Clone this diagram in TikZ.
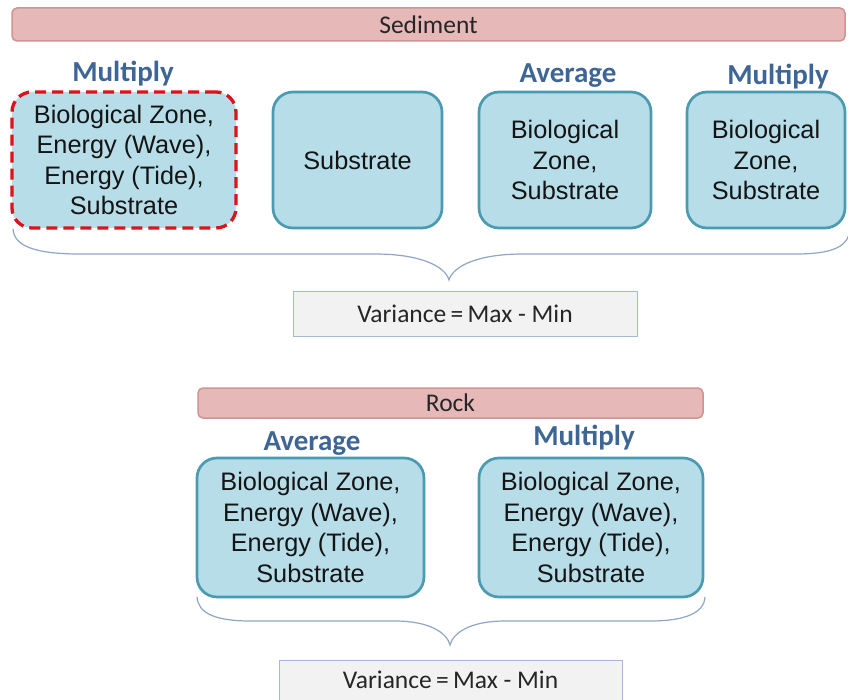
\documentclass[tikz,border=0pt]{standalone}
\usepackage{fontspec}
\setmainfont{Liberation Sans}
\newfontfamily\calfont{Carlito}
\definecolor{barfill}{HTML}{E6B9B8}
\definecolor{bardraw}{HTML}{CF9493}
\definecolor{boxfill}{HTML}{B7DDE8}
\definecolor{boxdraw}{HTML}{4A9AB1}
\definecolor{labelblue}{HTML}{3D6696}
\definecolor{varfill}{HTML}{F2F2F2}
\definecolor{vardraw}{HTML}{A3B9D6}
\definecolor{bracecol}{HTML}{8FA6C4}
\definecolor{dashred}{HTML}{D9141C}
\definecolor{textdark}{HTML}{262626}
\tikzset{
  bar/.style={draw=bardraw, fill=barfill, line width=1.5pt, rounded corners=5pt,
    inner sep=0pt, text=textdark, font=\calfont\fontsize{25.5}{27}\selectfont},
  zonebox/.style={draw=boxdraw, fill=boxfill, line width=2.7pt, rounded corners=20pt,
    inner sep=0pt, align=center, text=black!92, font=\fontsize{25.3}{30.5}\selectfont},
  hilite/.style={draw=dashred, line width=3.3pt, dash pattern=on 11pt off 6pt},
  oplabel/.style={anchor=base, text=labelblue, inner sep=0pt,
    font=\calfont\bfseries\fontsize{29}{31}\selectfont},
  varbox/.style={draw=vardraw, fill=varfill, line width=1pt, inner sep=0pt,
    text=textdark, font=\calfont\fontsize{25.5}{28}\selectfont},
  bracepath/.style={draw=bracecol, line width=1.2pt}
}
\begin{document}
\begin{tikzpicture}[x=1pt, y=-1pt]
\useasboundingbox (0,0) rectangle (848,700);
\fill[white] (0,0) rectangle (848,700);

% ---------- Sediment ----------
\node[bar, minimum width=833pt, minimum height=33pt] (sed) at (428.5,24.5) {Sediment};

\node[oplabel] (l1) at (123,82) {Multiply};
\node[oplabel] (l3) at (568,83) {Average};
\node[oplabel] (l4) at (778,85) {Multiply};

\node[zonebox, hilite, minimum width=224pt, minimum height=136pt] (s1) at (124,160)
  {Biological Zone,\\Energy (Wave),\\Energy (Tide),\\Substrate};
\node[zonebox, minimum width=169pt, minimum height=136pt] (s2) at (357.5,160) {Substrate};
\node[zonebox, minimum width=172pt, minimum height=136pt] (s3) at (565,160)
  {Biological\\Zone,\\Substrate};
\node[zonebox, minimum width=158pt, minimum height=136pt] (s4) at (766,160)
  {Biological\\Zone,\\Substrate};

\coordinate (sbl) at (13,229);
\coordinate (stip) at (449,280);
\coordinate (sbr) at (850,228);
\draw[bracepath] (sbl) .. controls (14,246) and (35,254) .. (80,254) -- (375,254)
  .. controls (420,254) and (445,266) .. (stip)
  .. controls (453,266) and (478,254) .. (523,254) -- (795,254)
  .. controls (835,254) and (849,246) .. (sbr);

\node[varbox, minimum width=344pt, minimum height=44pt] (v1) at (465,314) {Variance\,=\,Max - Min};

% ---------- Rock ----------
\node[bar, minimum width=505pt, minimum height=30pt] (rock) at (450.5,403) {Rock};

\node[oplabel] (r1l) at (312,450) {Average};
\node[oplabel] (r2l) at (584,445) {Multiply};

\node[zonebox, minimum width=227pt, minimum height=139pt] (r1) at (310.5,527.5)
  {Biological Zone,\\Energy (Wave),\\Energy (Tide),\\Substrate};
\node[zonebox, minimum width=224pt, minimum height=139pt] (r2) at (591,527.5)
  {Biological Zone,\\Energy (Wave),\\Energy (Tide),\\Substrate};

\coordinate (rbl) at (197,597);
\coordinate (rtip) at (450,645);
\coordinate (rbr) at (705,597);
\draw[bracepath] (rbl) .. controls (198,613) and (215,621) .. (250,621) -- (395,621)
  .. controls (430,621) and (447,633) .. (rtip)
  .. controls (453,633) and (470,621) .. (505,621) -- (650,621)
  .. controls (685,621) and (704,613) .. (rbr);

\node[varbox, minimum width=343pt, minimum height=40pt] (v2) at (450.5,680) {Variance\,=\,Max - Min};
\end{tikzpicture}
\end{document}
